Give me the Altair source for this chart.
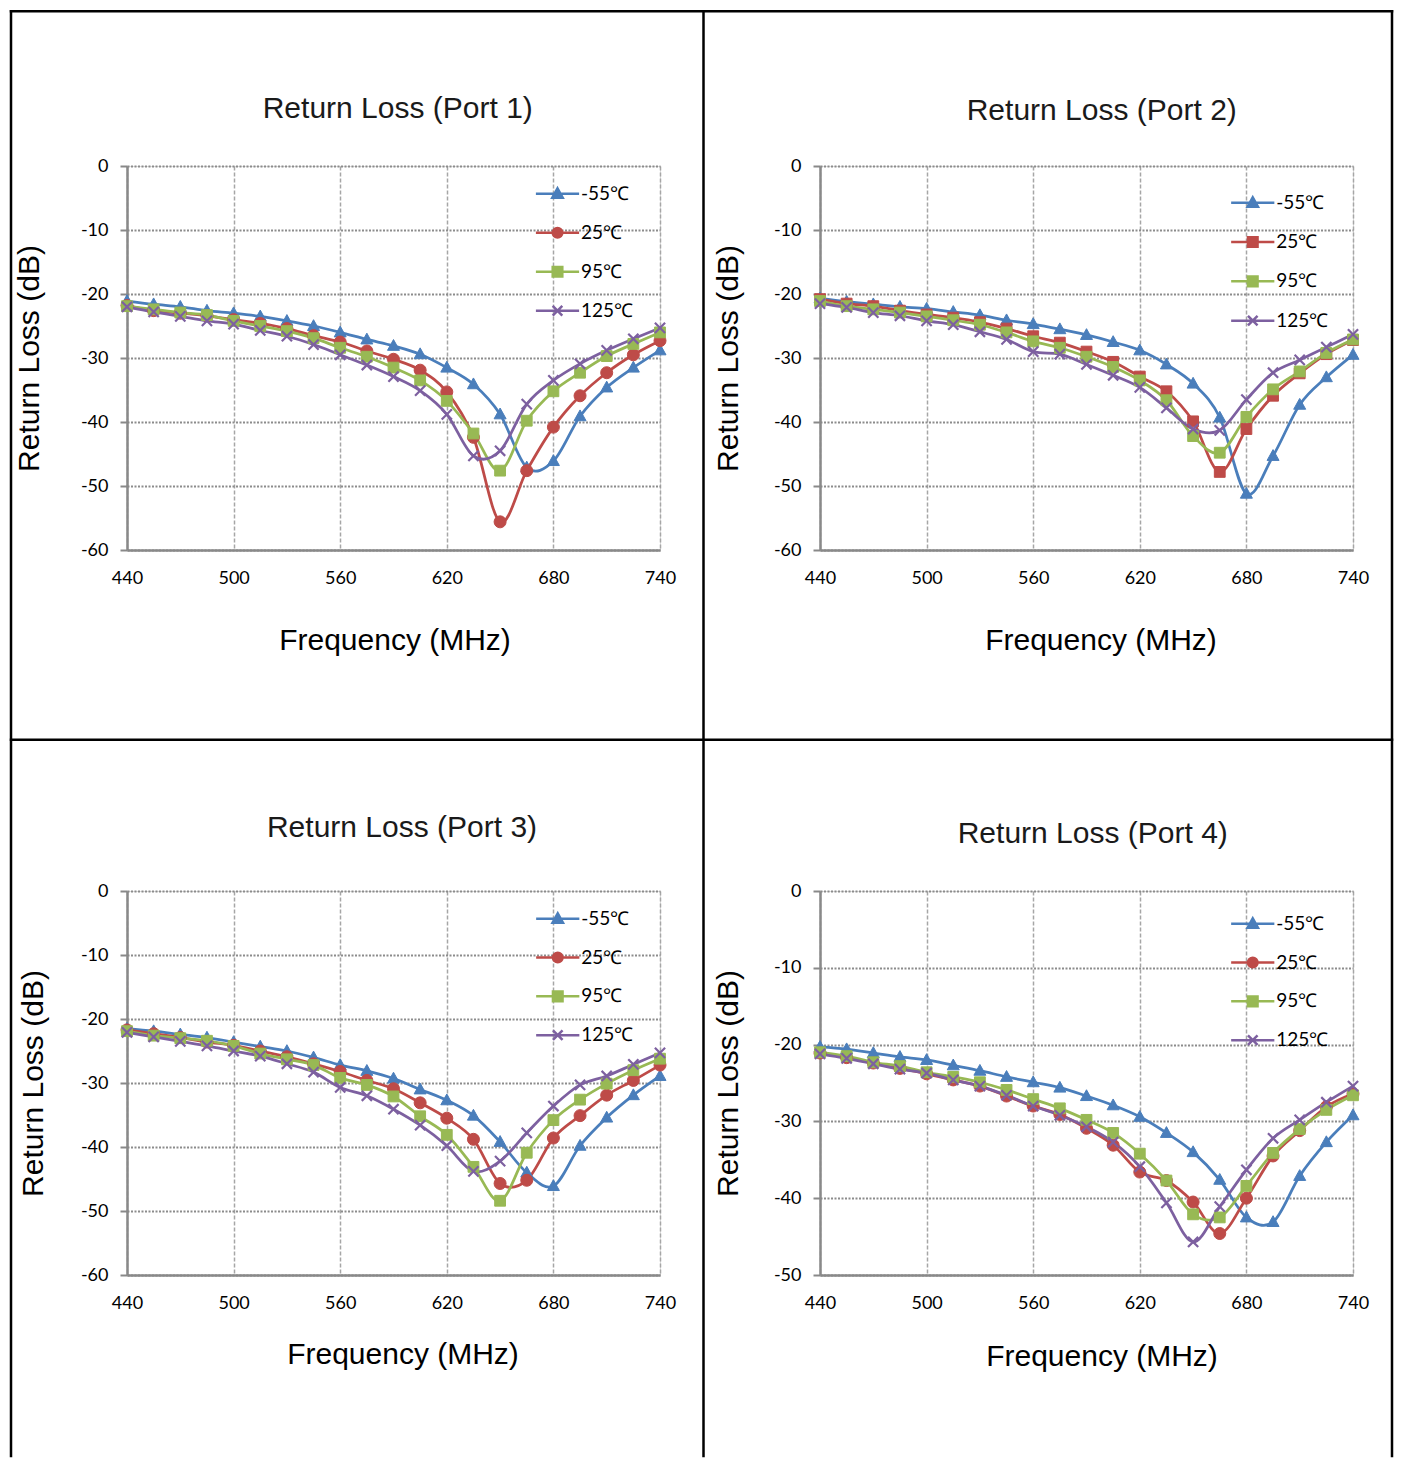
import altair as alt
import pandas as pd

freq = [440, 455, 470, 485, 500, 515, 530, 545, 560, 575, 590, 605, 620, 635, 650, 665, 680, 695, 710, 725, 740]
series = ["-55℃", "25℃", "95℃", "125℃"]
colors = ["#4A7EBB", "#BE4B48", "#98B954", "#7D60A0"]

# Port 1
p1_m55 = [-21.1, -21.6, -22.0, -22.6, -23.0, -23.5, -24.2, -25.0, -26.0, -27.1, -28.1, -29.4, -31.5, -34.1, -38.8, -47.1, -46.1, -39.1, -34.6, -31.5, -28.8]
p1_25 = [-21.8, -22.6, -23.0, -23.4, -24.0, -24.6, -25.4, -26.5, -27.5, -28.9, -30.2, -31.9, -35.3, -42.4, -55.6, -47.6, -40.8, -35.9, -32.3, -29.5, -27.3]
p1_95 = [-21.9, -22.4, -22.9, -23.3, -24.2, -25.0, -25.8, -26.9, -28.4, -29.8, -31.5, -33.5, -36.7, -41.8, -47.6, -39.8, -35.2, -32.3, -29.7, -27.8, -26.0]
p1_125 = [-22.0, -22.8, -23.5, -24.2, -24.7, -25.7, -26.6, -27.9, -29.5, -31.1, -32.9, -35.1, -38.8, -45.3, -44.5, -37.2, -33.5, -30.9, -28.8, -27.0, -25.3]

# Port 2
p2_m55 = [-20.7, -21.2, -21.6, -22.0, -22.3, -22.8, -23.3, -24.1, -24.7, -25.5, -26.4, -27.5, -28.8, -31.0, -34.0, -39.3, -51.2, -45.3, -37.3, -33.0, -29.5]
p2_25 = [-20.8, -21.5, -21.9, -22.6, -23.2, -23.7, -24.4, -25.4, -26.6, -27.6, -29.0, -30.6, -32.9, -35.2, -39.9, -47.8, -41.1, -35.9, -32.4, -29.4, -27.2]
p2_95 = [-21.1, -21.9, -22.4, -22.9, -23.5, -24.1, -24.8, -26.0, -27.4, -28.4, -29.8, -31.4, -33.5, -36.6, -42.2, -44.8, -39.2, -34.9, -32.1, -29.2, -27.1]
p2_125 = [-21.5, -22.1, -22.9, -23.4, -24.2, -24.8, -25.9, -27.1, -29.0, -29.4, -31.0, -32.7, -34.6, -37.8, -41.1, -41.3, -36.5, -32.3, -30.3, -28.3, -26.3]

# Port 3
p3_m55 = [-21.5, -21.9, -22.4, -22.9, -23.6, -24.3, -25.0, -26.0, -27.2, -28.1, -29.3, -31.0, -32.7, -35.1, -39.2, -44.0, -46.1, -39.8, -35.4, -31.9, -28.9]
p3_25 = [-21.7, -22.3, -22.9, -23.6, -24.1, -25.0, -25.9, -27.0, -28.2, -29.6, -30.9, -33.1, -35.5, -38.8, -45.7, -45.2, -38.6, -35.1, -31.9, -29.6, -27.2]
p3_95 = [-21.9, -22.6, -23.0, -23.4, -24.2, -25.4, -26.3, -27.2, -29.2, -30.3, -32.1, -35.2, -38.1, -43.1, -48.4, -40.9, -35.8, -32.6, -30.1, -28.0, -26.2]
p3_125 = [-22.1, -22.8, -23.5, -24.2, -25.0, -25.8, -27.0, -28.3, -30.7, -32.0, -34.1, -36.6, -39.8, -43.8, -42.2, -37.8, -33.6, -30.3, -28.9, -27.1, -25.3]

# Port 4
p4_m55 = [-20.3, -20.6, -21.1, -21.6, -22.0, -22.7, -23.4, -24.2, -24.9, -25.6, -26.7, -27.9, -29.4, -31.5, -34.0, -37.6, -42.5, -43.1, -37.1, -32.7, -29.2]
p4_25 = [-21.1, -21.7, -22.4, -23.1, -23.8, -24.6, -25.4, -26.7, -28.0, -29.1, -30.9, -33.1, -36.6, -37.7, -40.5, -44.6, -40.0, -34.5, -31.2, -28.1, -26.4]
p4_95 = [-21.0, -21.5, -22.3, -22.8, -23.6, -24.2, -24.9, -25.9, -27.1, -28.3, -29.8, -31.5, -34.2, -37.7, -42.1, -42.5, -38.4, -34.1, -31.0, -28.5, -26.6]
p4_125 = [-21.2, -21.8, -22.5, -23.2, -23.7, -24.6, -25.4, -26.6, -28.0, -29.2, -30.7, -32.7, -35.9, -40.6, -45.7, -41.1, -36.3, -32.2, -29.8, -27.5, -25.4]

x_ticks = [440, 500, 560, 620, 680, 740]

# marker shapes (plot) and legend symbols (line + marker)
TRI = "M0,-1.05L1,0.75L-1,0.75Z"
CIR = "circle"
SQR = "M-0.9,-0.9H0.9V0.9H-0.9Z"
XMK = "M-0.85,-0.85L0.85,0.85M-0.85,0.85L0.85,-0.85"
LL = "M-3.6,0H3.6"
L_TRI = LL + "M0,-0.9L0.87,0.65L-0.87,0.65Z"
L_CIR = LL + "M-0.8,0A0.8,0.8,0,1,1,0.8,0A0.8,0.8,0,1,1,-0.8,0Z"
L_SQR = LL + "M-0.8,-0.8H0.8V0.8H-0.8Z"
L_XMK = LL + "M-0.8,-0.8L0.8,0.8M-0.8,0.8L0.8,-0.8"

W = 533
H = 384
TFONT = "Liberation Sans"
NFONT = "Lato"
TSIZE = 30


def make_df(vals):
    rows = []
    for s, v in zip(series, vals):
        for f, r in zip(freq, v):
            rows.append({"freq": f, "rl": r, "series": s})
    return pd.DataFrame(rows)


ONE = pd.DataFrame({"k": [0]})


def panel(vals, shapes, lshapes, ymin, title, tx, ty, ytx, xtx, xty, legx, legy, rowpad):
    df = make_df(vals)
    yvals = list(range(ymin, 1, 10))
    xenc = alt.X("freq:Q", scale=alt.Scale(domain=[440, 740], nice=False),
                 axis=alt.Axis(values=x_ticks, title="Frequency (MHz)", ticks=False, tickSize=0,
                               labelPadding=19, labelFont=NFONT, labelFontSize=18, labelColor="#000",
                               labelFlush=False, labelOverlap=False, labelBound=False,
                               titleFont=TFONT, titleFontSize=TSIZE, titleFontWeight="normal",
                               titleColor="#000", titleX=xtx, titleY=xty, titleBaseline="middle",
                               grid=True, gridColor="#a6a6a6", gridDash=[4, 2], gridWidth=1.5,
                               domainColor="#898989", domainWidth=2.5))
    yenc = alt.Y("rl:Q", scale=alt.Scale(domain=[ymin, 0], nice=False),
                 axis=alt.Axis(values=yvals, title="Return Loss (dB)", tickSize=7, tickWidth=2,
                               tickColor="#898989", labelPadding=12, labelFont=NFONT, labelFontSize=18,
                               labelColor="#000", labelExpr="'' + datum.value",
                               labelFlush=False, labelOverlap=False,
                               titleFont=TFONT, titleFontSize=TSIZE, titleFontWeight="normal",
                               titleColor="#000", titleX=ytx, titleY=H / 2, titleBaseline="middle",
                               titleAngle=270,
                               grid=True, gridColor="#8c8c8c", gridDash=[2, 1.5], gridWidth=2,
                               domainColor="#898989", domainWidth=2.5))
    layers = []
    for s, c, shp in zip(series, colors, shapes):
        sub = df[df["series"] == s]
        layers.append(alt.Chart(sub).mark_line(color=c, strokeWidth=2.75, interpolate="cardinal")
                      .encode(x=xenc, y=yenc))
    for s, c, shp in zip(series, colors, shapes):
        sub = df[df["series"] == s]
        sw = 2.2 if shp == XMK else 1
        layers.append(alt.Chart(sub).mark_point(shape=shp, filled=True, fill=c, stroke=c,
                                                strokeWidth=sw, size=144, opacity=1)
                      .encode(x=xenc, y=yenc))
    leg = alt.Legend(orient="none", legendX=legx, legendY=legy, title=None, labelFont=NFONT,
                     labelFontSize=19, labelColor="#000", symbolSize=144, symbolOpacity=1,
                     symbolStrokeWidth=2.5, labelOffset=14, rowPadding=rowpad, padding=0,
                     labelLimit=0)
    layers.append(alt.Chart(df).mark_point(filled=True, opacity=0, size=144).encode(
        x=xenc, y=yenc,
        fill=alt.Fill("series:N", scale=alt.Scale(domain=series, range=colors), legend=leg),
        stroke=alt.Stroke("series:N", scale=alt.Scale(domain=series, range=colors), legend=leg),
        shape=alt.Shape("series:N", scale=alt.Scale(domain=series, range=lshapes), legend=leg),
    ))
    layers.append(alt.Chart(ONE).mark_text(text=title, font=TFONT, fontSize=TSIZE, color="#1a1a1a",
                                           align="center", baseline="middle")
                  .encode(x=alt.value(tx), y=alt.value(ty)))
    return layers


def borders():
    b = alt.Chart(ONE).mark_rule(color="#000", strokeWidth=2.5, strokeCap="square")
    top, bot = -154.75, 1290
    return [
        b.encode(x=alt.value(-116), y=alt.value(top), y2=alt.value(bot)),
        b.encode(x=alt.value(576.5), y=alt.value(top), y2=alt.value(bot)),
        b.encode(x=alt.value(1265), y=alt.value(top), y2=alt.value(bot)),
        b.encode(x=alt.value(-116), x2=alt.value(1265), y=alt.value(top)),
        b.encode(x=alt.value(-116), x2=alt.value(1265), y=alt.value(573.75)),
    ]


l1 = panel([p1_m55, p1_25, p1_95, p1_125], [TRI, CIR, SQR, XMK], [L_TRI, L_CIR, L_SQR, L_XMK],
           -60, "Return Loss (Port 1)", 270.75, -57, -98, W / 2 + 1, 90, 421, 18.25, 18)
l2 = panel([p2_m55, p2_25, p2_95, p2_125], [TRI, SQR, SQR, XMK], [L_TRI, L_SQR, L_SQR, L_XMK],
           -60, "Return Loss (Port 2)", 281.75, -55, -92, W / 2 + 14, 90, 423.25, 27.25, 18.3)
l3 = panel([p3_m55, p3_25, p3_95, p3_125], [TRI, CIR, SQR, XMK], [L_TRI, L_CIR, L_SQR, L_XMK],
           -60, "Return Loss (Port 3)", 275, -63, -94, W / 2 + 9, 79, 421.25, 18.25, 17.8)
l4 = panel([p4_m55, p4_25, p4_95, p4_125], [TRI, CIR, SQR, XMK], [L_TRI, L_CIR, L_SQR, L_XMK],
           -50, "Return Loss (Port 4)", 272.75, -57, -92, W / 2 + 15, 81, 423.25, 23.25, 17.8)

c1 = alt.layer(*(borders() + l1)).properties(width=W, height=H)
c2 = alt.layer(*l2).properties(width=W, height=H)
c3 = alt.layer(*l3).properties(width=W, height=H)
c4 = alt.layer(*l4).properties(width=W, height=H)

chart = alt.concat(c1, c2, c3, c4, columns=2, spacing={"row": 341, "column": 160}, bounds="flush") \
    .resolve_scale(fill="independent", stroke="independent", shape="independent") \
    .properties(padding=0) \
    .configure_view(stroke="#898989", strokeWidth=2.5) \
    .configure(background="white")

chart.save("out.html", embed_options={"renderer": "svg", "actions": False})
